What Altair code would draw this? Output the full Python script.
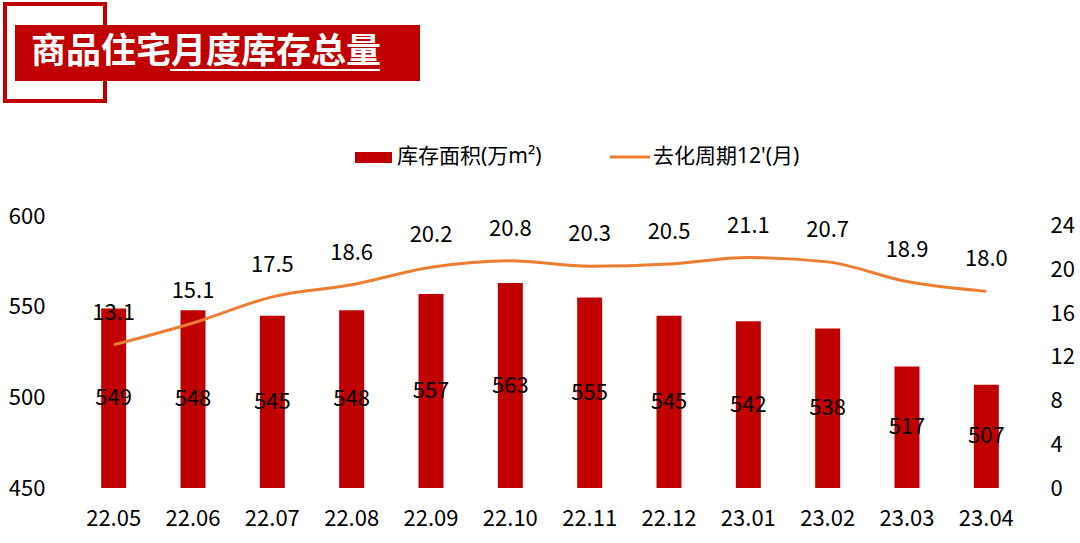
import altair as alt
import pandas as pd

months = ["22.05", "22.06", "22.07", "22.08", "22.09", "22.10",
          "22.11", "22.12", "23.01", "23.02", "23.03", "23.04"]
inventory = [549, 548, 545, 548, 557, 563, 555, 545, 542, 538, 517, 507]
cycle = [13.1, 15.1, 17.5, 18.6, 20.2, 20.8, 20.3, 20.5, 21.1, 20.7, 18.9, 18.0]

title_text = "商品住宅月度库存总量"
legend_bar = "库存面积(万m²)"
legend_line = "去化周期12'(月)"

df = pd.DataFrame({"month": months, "inventory": inventory, "cycle": cycle})
one = pd.DataFrame({"a": [0]})

FONT = "Noto Sans CJK SC"
LFONT = "Noto Sans, Noto Sans CJK SC"
RED = "#C00000"
ORANGE = "#ED7D31"

x_enc = alt.X("month:N", sort=months,
              scale=alt.Scale(paddingInner=0, paddingOuter=0),
              axis=alt.Axis(title=None, labelAngle=0, domain=False, ticks=False,
                            labelFontSize=22, labelPadding=20, labelColor="#000",
                            labelFont=FONT))

left_scale = alt.Scale(domain=[450, 600], zero=False, nice=False)
right_scale = alt.Scale(domain=[0, 24.9], zero=True, nice=False)

left_axis = alt.Axis(title=None, values=[450, 500, 550, 600], domain=False,
                     ticks=False, grid=False, labelFontSize=22, labelPadding=29,
                     labelColor="#000", labelFont=FONT, orient="left")
right_axis = alt.Axis(title=None, orient="right", values=[0, 4, 8, 12, 16, 20, 24],
                      domain=False, ticks=False, grid=False, labelFontSize=22,
                      labelPadding=24, labelAlign="left", labelColor="#000",
                      labelFont=FONT)

bars = alt.Chart(df).mark_bar(size=25, color=RED).encode(
    x=x_enc,
    y=alt.Y("inventory:Q", scale=left_scale, axis=left_axis),
    y2=alt.datum(450),
)

bar_text = alt.Chart(df).transform_calculate(
    mid="(datum.inventory + 450) / 2"
).mark_text(fontSize=22, color="#000", font=FONT, baseline="middle").encode(
    x=x_enc,
    y=alt.Y("mid:Q", scale=left_scale, axis=left_axis),
    text=alt.Text("inventory:Q", format="d"),
)

line = alt.Chart(df).mark_line(color=ORANGE, strokeWidth=3, interpolate="monotone").encode(
    x=x_enc,
    y=alt.Y("cycle:Q", scale=right_scale, axis=right_axis),
)

line_text = alt.Chart(df).mark_text(fontSize=22, color="#000", font=FONT, dy=-32,
                                    baseline="middle").encode(
    x=x_enc,
    y=alt.Y("cycle:Q", scale=right_scale, axis=right_axis),
    text=alt.Text("cycle:Q", format=".1f"),
)

left = alt.layer(bars, bar_text)
right = alt.layer(line, line_text)

# Title block
outline = alt.Chart(one).mark_rect(fill=None, stroke=RED, strokeWidth=4).encode(
    x=alt.value(-69), x2=alt.value(31), y=alt.value(-212), y2=alt.value(-115))
fillbox = alt.Chart(one).mark_rect(fill=RED).encode(
    x=alt.value(-59), x2=alt.value(346), y=alt.value(-191), y2=alt.value(-135))
title = alt.Chart(one).mark_text(text=title_text, align="left", baseline="middle",
                                 fontSize=35, fontWeight="bold", color="white",
                                 font=FONT).encode(x=alt.value(-43), y=alt.value(-164))
underline = alt.Chart(one).mark_rule(color="white", strokeWidth=2).encode(
    x=alt.value(96), x2=alt.value(306), y=alt.value(-146))

# Legend
sw_bar = alt.Chart(one).mark_rect(fill=RED).encode(
    x=alt.value(281), x2=alt.value(318), y=alt.value(-64), y2=alt.value(-53))
lg_bar = alt.Chart(one).mark_text(text=legend_bar, align="left", baseline="middle",
                                  fontSize=21, color="#000", font=LFONT).encode(
    x=alt.value(323), y=alt.value(-59))
sw_line = alt.Chart(one).mark_rule(color=ORANGE, strokeWidth=3).encode(
    x=alt.value(536), x2=alt.value(576), y=alt.value(-59))
lg_line = alt.Chart(one).mark_text(text=legend_line, align="left", baseline="middle",
                                   fontSize=21, color="#000", font=LFONT).encode(
    x=alt.value(579), y=alt.value(-59))

chart = alt.layer(
    left, right, outline, fillbox, title, underline, sw_bar, lg_bar, sw_line, lg_line
).resolve_scale(y="independent").properties(
    width=952, height=272,
    padding={"left": 74, "top": 216, "right": 54, "bottom": 55},
    autosize=alt.AutoSizeParams(type="none"),
    background="white",
).configure_view(stroke=None)

chart.save("out.html", embed_options={"renderer": "svg", "actions": False})
